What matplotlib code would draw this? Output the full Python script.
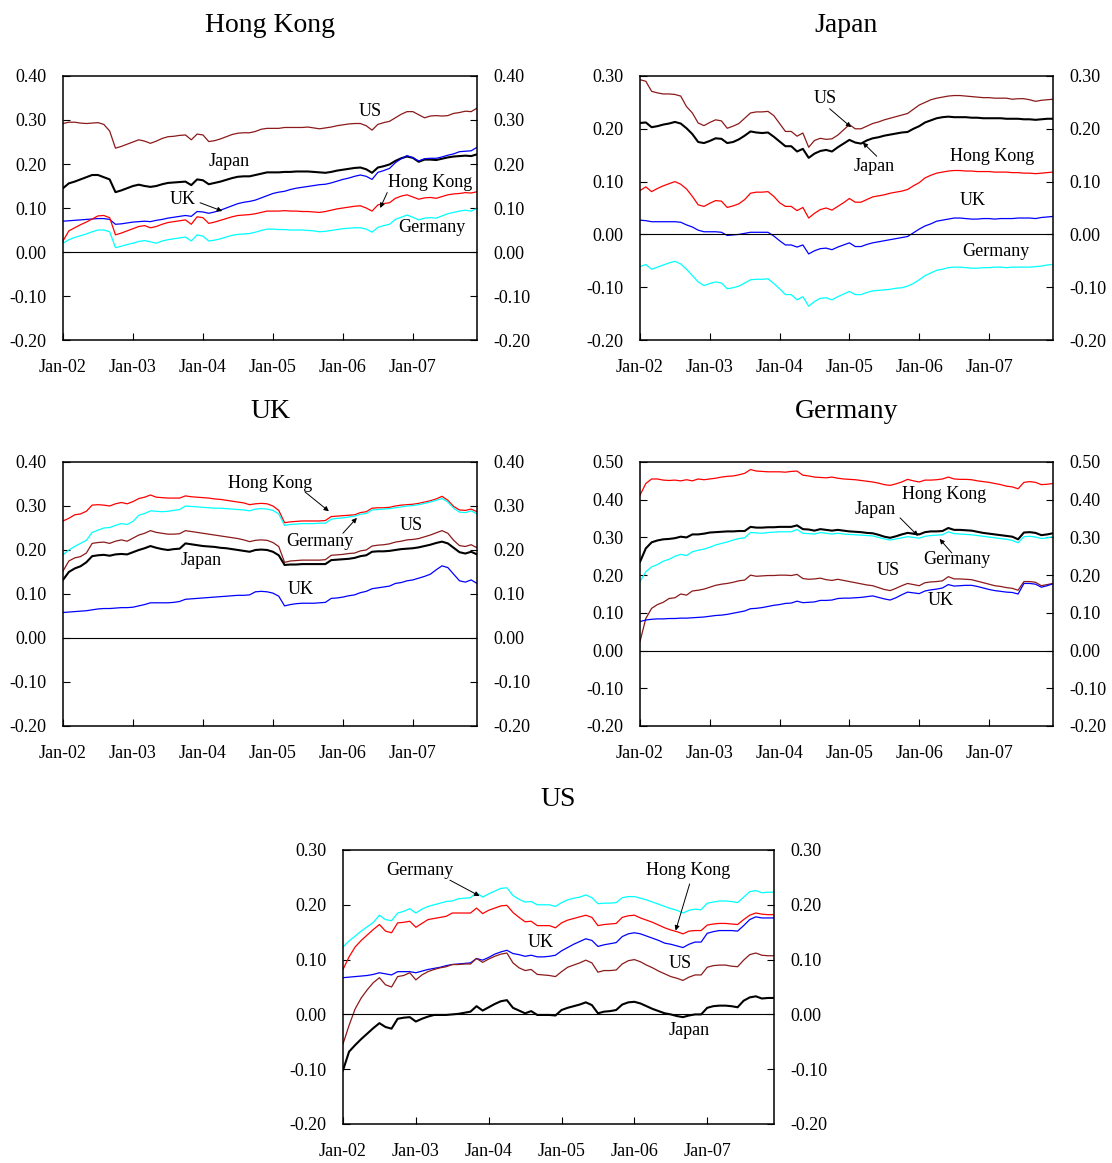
"""
Five panels: monthly correlation-type series, Jan-02 to Dec-07
"""
import matplotlib
matplotlib.use('Agg')
import matplotlib.pyplot as plt
from matplotlib.ticker import FuncFormatter, MultipleLocator

plt.rcParams['font.family'] = ['Liberation Serif', 'DejaVu Serif']
plt.rcParams['axes.unicode_minus'] = False

# x axis: one point per month, Jan-02 .. Dec-07
months = list(range(72))
year_ticks = [0, 12, 24, 36, 48, 60]
year_labels = ['Jan-02', 'Jan-03', 'Jan-04', 'Jan-05', 'Jan-06', 'Jan-07']

# ---- Hong Kong panel ----
hk_us = [.292, .295, .295, .293, .292, .293, .294, .290, .275, .236, .240, .245,
         .250, .255, .252, .247, .252, .258, .262, .263, .265, .266, .255, .268,
         .266, .251, .253, .257, .262, .267, .270, .271, .271, .274, .279, .281,
         .281, .281, .283, .283, .283, .283, .284, .282, .280, .282, .284, .287,
         .289, .291, .292, .292, .287, .277, .290, .294, .297, .305, .313, .319,
         .319, .312, .305, .309, .310, .309, .310, .315, .317, .320, .319, .327]
hk_japan = [.145, .156, .160, .165, .170, .175, .175, .170, .165, .136, .140, .145,
            .150, .153, .150, .148, .150, .154, .157, .158, .159, .160, .152, .165,
            .163, .154, .157, .160, .164, .168, .171, .172, .172, .175, .178, .181,
            .181, .181, .182, .182, .183, .183, .183, .182, .181, .180, .182, .185,
            .187, .189, .191, .192, .188, .180, .192, .195, .199, .207, .213, .217,
            .214, .205, .210, .210, .209, .212, .215, .217, .218, .219, .218, .222]
hk_uk = [.070, .071, .072, .073, .074, .075, .076, .076, .074, .063, .064, .066,
         .068, .069, .070, .069, .072, .074, .077, .079, .081, .083, .081, .092,
         .091, .088, .091, .095, .100, .105, .110, .113, .115, .118, .123, .128,
         .133, .136, .138, .142, .145, .147, .149, .151, .153, .154, .157, .161,
         .165, .168, .172, .175, .172, .165, .181, .185, .190, .203, .212, .219,
         .214, .207, .212, .213, .213, .216, .220, .223, .228, .229, .230, .238]
hk_hk = [.025, .048, .055, .062, .068, .075, .082, .083, .078, .039, .043, .048,
         .053, .058, .060, .055, .058, .063, .067, .069, .071, .073, .063, .080,
         .078, .065, .068, .072, .076, .080, .083, .084, .085, .087, .090, .093,
         .093, .093, .094, .093, .093, .092, .092, .091, .090, .092, .095, .098,
         .100, .102, .104, .105, .100, .093, .107, .110, .112, .122, .127, .130,
         .125, .120, .123, .124, .122, .126, .130, .132, .133, .135, .134, .137]
hk_germany = [.020, .028, .033, .037, .041, .046, .050, .050, .046, .010, .013, .017,
              .020, .024, .026, .023, .020, .025, .028, .030, .032, .034, .025, .039,
              .036, .025, .027, .030, .034, .038, .040, .041, .042, .045, .049, .052,
              .052, .051, .051, .050, .050, .050, .049, .048, .046, .047, .049, .051,
              .053, .054, .055, .055, .052, .045, .056, .060, .063, .074, .079, .084,
              .079, .073, .077, .078, .077, .082, .087, .090, .093, .095, .093, .099]

# ---- Japan panel ----
jp_us = [.293, .290, .271, .268, .266, .266, .265, .262, .242, .230, .211, .206,
         .212, .217, .215, .201, .205, .210, .220, .230, .232, .232, .233, .225,
         .210, .195, .195, .186, .192, .165, .178, .182, .180, .181, .188, .198,
         .208, .200, .200, .205, .210, .213, .217, .220, .223, .226, .229, .237,
         .245, .250, .255, .258, .260, .262, .263, .263, .262, .261, .260, .259,
         .259, .258, .258, .258, .256, .257, .257, .255, .252, .254, .255, .256]
jp_japan = [.211, .212, .203, .205, .208, .210, .213, .210, .201, .190, .175, .173,
            .177, .182, .181, .173, .175, .180, .187, .195, .193, .192, .193, .185,
            .176, .167, .167, .157, .162, .145, .153, .158, .160, .157, .165, .172,
            .179, .174, .172, .178, .182, .184, .187, .189, .191, .193, .194, .200,
            .205, .212, .216, .220, .222, .223, .222, .222, .222, .221, .221, .220,
            .220, .220, .220, .219, .219, .219, .218, .218, .217, .218, .219, .219]
jp_hk = [.083, .090, .081, .087, .092, .096, .100, .095, .086, .072, .056, .053,
         .059, .064, .063, .051, .054, .058, .066, .078, .080, .080, .081, .072,
         .060, .053, .053, .045, .051, .031, .040, .047, .050, .046, .053, .060,
         .068, .061, .061, .066, .071, .073, .075, .078, .080, .082, .085, .092,
         .098, .107, .112, .116, .118, .120, .121, .121, .120, .120, .119, .119,
         .119, .118, .118, .118, .117, .117, .116, .116, .115, .116, .117, .118]
jp_uk = [.027, .026, .024, .024, .024, .024, .024, .023, .018, .014, .008, .005,
         .005, .005, .004, -.002, -.001, .000, .002, .004, .004, .004, .004, -.003,
         -.012, -.020, -.020, -.024, -.020, -.037, -.031, -.027, -.026, -.029, -.024, -.020,
         -.016, -.023, -.023, -.019, -.016, -.014, -.012, -.010, -.008, -.006, -.004, .003,
         .010, .016, .020, .025, .027, .029, .031, .031, .030, .029, .029, .030,
         .030, .029, .030, .030, .030, .031, .031, .031, .030, .032, .033, .034]
jp_germany = [-.061, -.057, -.066, -.062, -.058, -.054, -.051, -.056, -.066, -.078, -.090, -.097,
              -.093, -.090, -.092, -.103, -.101, -.098, -.092, -.086, -.085, -.085, -.084, -.093,
              -.103, -.114, -.114, -.124, -.118, -.136, -.127, -.121, -.120, -.124, -.118, -.113,
              -.108, -.114, -.114, -.110, -.107, -.106, -.105, -.104, -.102, -.101, -.098, -.093,
              -.086, -.078, -.073, -.068, -.066, -.063, -.062, -.062, -.063, -.064, -.064, -.063,
              -.063, -.062, -.062, -.063, -.062, -.062, -.062, -.062, -.061, -.060, -.058, -.057]

# ---- UK panel ----
uk_hk = [.266, .272, .280, .282, .288, .302, .303, .302, .300, .305, .308, .305,
         .310, .317, .320, .325, .320, .319, .318, .318, .318, .323, .321, .320,
         .319, .318, .316, .315, .313, .311, .309, .307, .303, .305, .306, .305,
         .300, .290, .262, .264, .265, .266, .266, .266, .266, .267, .276, .277,
         .278, .279, .280, .285, .287, .295, .296, .296, .297, .300, .302, .303,
         .304, .306, .309, .312, .316, .322, .313, .299, .291, .290, .293, .287]
uk_germany = [.189, .200, .208, .215, .222, .240, .245, .250, .251, .256, .260, .258,
              .265, .279, .283, .289, .288, .287, .288, .290, .292, .300, .299, .298,
              .297, .296, .295, .295, .294, .293, .292, .291, .289, .293, .294, .293,
              .290, .282, .256, .258, .259, .260, .260, .260, .261, .261, .270, .272,
              .273, .275, .277, .281, .283, .291, .292, .293, .294, .296, .298, .300,
              .301, .303, .306, .309, .313, .317, .309, .295, .286, .285, .289, .282]
uk_us = [.152, .175, .182, .185, .193, .215, .217, .218, .215, .220, .223, .220,
         .227, .234, .238, .244, .240, .238, .236, .236, .237, .244, .242, .240,
         .238, .236, .234, .232, .230, .228, .226, .223, .219, .222, .223, .222,
         .217, .208, .172, .175, .176, .177, .177, .177, .177, .178, .188, .189,
         .190, .192, .193, .198, .200, .209, .211, .212, .214, .218, .220, .223,
         .224, .226, .230, .234, .239, .244, .238, .222, .210, .208, .212, .205]
uk_japan = [.132, .150, .158, .163, .172, .186, .188, .189, .187, .190, .191, .190,
            .195, .200, .204, .209, .205, .202, .200, .202, .203, .215, .213, .211,
            .209, .208, .207, .205, .204, .202, .200, .198, .196, .200, .201, .200,
            .196, .188, .166, .167, .167, .168, .168, .168, .168, .168, .177, .178,
            .179, .180, .182, .186, .188, .196, .197, .197, .198, .200, .202, .203,
            .204, .206, .209, .212, .216, .219, .215, .205, .195, .192, .196, .190]
uk_uk = [.058, .059, .060, .061, .062, .064, .066, .067, .067, .068, .069, .069,
         .070, .073, .076, .080, .080, .080, .080, .081, .083, .088, .089, .090,
         .091, .092, .093, .094, .095, .096, .097, .097, .098, .105, .106, .105,
         .102, .095, .073, .076, .078, .079, .079, .079, .080, .081, .090, .091,
         .093, .096, .098, .103, .106, .112, .114, .116, .118, .124, .126, .130,
         .132, .136, .140, .145, .155, .164, .160, .145, .130, .127, .132, .124]

# ---- Germany panel ----
de_hk = [.412, .443, .455, .455, .452, .451, .452, .450, .453, .450, .455, .453,
         .455, .457, .460, .462, .463, .466, .470, .480, .476, .475, .474, .474,
         .474, .473, .475, .476, .465, .463, .460, .459, .458, .460, .457, .455,
         .454, .453, .451, .449, .447, .444, .440, .438, .442, .447, .454, .450,
         .447, .452, .452, .453, .455, .460, .455, .454, .454, .453, .450, .448,
         .446, .443, .440, .436, .434, .429, .446, .448, .446, .440, .441, .443]
de_japan = [.235, .271, .287, .292, .295, .296, .298, .302, .300, .308, .308, .310,
            .313, .314, .315, .316, .316, .317, .317, .328, .326, .326, .327, .327,
            .328, .328, .328, .332, .322, .321, .318, .322, .320, .318, .320, .318,
            .316, .315, .314, .312, .311, .307, .302, .299, .303, .308, .312, .310,
            .308, .314, .316, .316, .317, .325, .320, .320, .319, .318, .315, .312,
            .310, .308, .306, .304, .302, .295, .313, .314, .312, .306, .308, .311]
de_germany = [.183, .209, .222, .228, .237, .242, .250, .255, .252, .262, .266, .269,
              .274, .280, .284, .288, .293, .297, .299, .313, .312, .311, .313, .314,
              .315, .315, .315, .321, .311, .310, .309, .313, .311, .309, .311, .309,
              .308, .307, .306, .305, .304, .300, .296, .293, .296, .299, .302, .300,
              .298, .303, .305, .306, .307, .315, .310, .309, .308, .307, .305, .303,
              .301, .299, .297, .295, .292, .286, .302, .303, .301, .297, .299, .302]
de_us = [.024, .085, .112, .122, .128, .138, .140, .150, .147, .158, .160, .163,
         .168, .173, .176, .178, .181, .185, .187, .200, .197, .198, .199, .199,
         .200, .200, .199, .202, .191, .189, .190, .192, .188, .186, .189, .186,
         .183, .180, .177, .174, .172, .167, .162, .159, .165, .172, .178, .175,
         .172, .180, .182, .183, .185, .196, .190, .190, .189, .188, .184, .180,
         .176, .172, .170, .167, .165, .160, .183, .183, .181, .172, .175, .178]
de_uk = [.077, .081, .083, .084, .084, .085, .085, .086, .086, .087, .088, .089,
         .091, .093, .094, .096, .099, .102, .105, .111, .112, .114, .117, .120,
         .122, .125, .126, .131, .127, .128, .129, .133, .133, .134, .138, .139,
         .139, .140, .141, .143, .145, .141, .137, .134, .140, .148, .155, .153,
         .151, .158, .161, .163, .166, .175, .171, .172, .173, .173, .170, .166,
         .162, .159, .157, .155, .154, .150, .178, .178, .176, .168, .172, .177]

# ---- US panel ----
us_germany = [.123, .134, .143, .152, .160, .168, .181, .173, .171, .185, .188, .193,
              .185, .192, .197, .200, .203, .206, .207, .211, .212, .213, .222, .214,
              .220, .225, .230, .231, .217, .210, .205, .206, .200, .200, .200, .197,
              .204, .209, .212, .214, .218, .213, .202, .203, .203, .204, .213, .215,
              .215, .212, .209, .205, .201, .197, .193, .190, .185, .190, .192, .191,
              .203, .205, .207, .207, .206, .204, .214, .224, .226, .222, .223, .223]
us_hk = [.082, .105, .123, .135, .145, .155, .164, .152, .149, .167, .168, .170,
         .159, .166, .173, .175, .177, .179, .185, .185, .185, .185, .194, .184,
         .190, .194, .198, .199, .186, .177, .169, .170, .162, .162, .162, .158,
         .167, .172, .175, .178, .181, .177, .162, .164, .165, .166, .177, .180,
         .181, .176, .172, .168, .163, .158, .154, .151, .147, .152, .153, .153,
         .163, .165, .166, .166, .165, .164, .173, .181, .185, .183, .182, .182]
us_uk = [.067, .068, .069, .070, .071, .073, .076, .074, .072, .078, .078, .078,
         .076, .079, .082, .084, .086, .089, .091, .092, .093, .094, .102, .099,
         .104, .110, .114, .117, .111, .109, .106, .108, .105, .105, .106, .108,
         .116, .122, .128, .133, .138, .135, .124, .127, .129, .131, .142, .147,
         .149, .147, .143, .139, .135, .130, .128, .125, .122, .128, .132, .132,
         .148, .151, .153, .153, .153, .152, .162, .173, .178, .176, .176, .176]
us_us = [-.054, -.020, .010, .030, .045, .058, .067, .054, .050, .069, .071, .076,
         .063, .072, .078, .082, .085, .087, .091, .091, .092, .092, .102, .095,
         .101, .106, .110, .112, .094, .085, .080, .082, .073, .072, .071, .069,
         .078, .086, .090, .094, .099, .094, .077, .080, .080, .081, .092, .098,
         .100, .096, .090, .085, .079, .074, .069, .066, .062, .068, .072, .072,
         .086, .089, .090, .090, .088, .087, .099, .109, .112, .108, .107, .107]
us_japan = [-.102, -.068, -.056, -.045, -.035, -.025, -.016, -.023, -.026, -.008, -.006, -.005,
            -.013, -.008, -.004, -.001, -.001, -.001, .000, .001, .003, .005, .015, .007,
            .013, .019, .024, .026, .012, .007, .002, .006, -.001, -.001, -.001, -.002,
            .008, .012, .015, .018, .022, .017, .002, .005, .006, .008, .018, .022,
            .023, .020, .015, .010, .006, .002, .000, -.003, -.005, -.002, .000, .000,
            .012, .015, .016, .016, .015, .013, .025, .031, .033, .029, .030, .030]

colors = {'US': '#8B1A1A', 'Japan': 'black', 'UK': '#0000FF',
          'Hong Kong': '#FF0000', 'Germany': '#00FFFF'}
widths = {'US': 0.9, 'Japan': 1.5, 'UK': 0.9, 'Hong Kong': 0.9, 'Germany': 0.9}

W, H = 1112, 1163
fig = plt.figure(figsize=(W / 100, H / 100), dpi=100)


def panel(rect, title, series, ylim, labels):
    ax = fig.add_axes(rect)
    for name, vals in series:
        ax.plot(months, vals, color=colors[name], lw=widths[name])
    ax.axhline(0, color='black', lw=0.8)
    ax.set_xlim(0, 71)
    ax.set_ylim(*ylim)
    ax.yaxis.set_major_locator(MultipleLocator(0.1))
    ax.yaxis.set_major_formatter(FuncFormatter(lambda v, p: '%.2f' % v))
    ax.set_xticks(year_ticks)
    ax.set_xticklabels(year_labels)
    ax.tick_params(axis='y', direction='in', left=True, right=True,
                   labelright=True, length=5, labelsize=13, pad=12)
    ax.tick_params(axis='x', direction='in', top=False, length=5,
                   labelsize=13, pad=14)
    for s in ax.spines.values():
        s.set_linewidth(1.1)
    ax.set_title(title, fontsize=20, pad=32)
    for txt, xy, arrow in labels:
        if arrow is not None:
            ax.annotate('', xy=arrow[1], xytext=arrow[0],
                        arrowprops=dict(arrowstyle='-|>', lw=0.7, color='black',
                                        mutation_scale=7, shrinkA=0, shrinkB=0))
        ax.text(xy[0], xy[1], txt, fontsize=13, ha='center', va='center')
    return ax


panel([63 / W, 1 - 340 / H, 414 / W, 264 / H], 'Hong Kong',
      [('US', hk_us), ('Japan', hk_japan), ('UK', hk_uk),
       ('Hong Kong', hk_hk), ('Germany', hk_germany)],
      (-0.2, 0.4),
      [('US', (52.7, 0.320), None),
       ('Japan', (28.5, 0.205), None),
       ('UK', (20.6, 0.120), ((23.5, 0.112), (27.3, 0.093))),
       ('Hong Kong', (63.0, 0.157), ((55.6, 0.135), (54.4, 0.100))),
       ('Germany', (63.3, 0.055), None)])

panel([640 / W, 1 - 340 / H, 413 / W, 264 / H], 'Japan',
      [('US', jp_us), ('Japan', jp_japan), ('Hong Kong', jp_hk),
       ('UK', jp_uk), ('Germany', jp_germany)],
      (-0.2, 0.3),
      [('US', (31.8, 0.258), ((32.6, 0.238), (36.3, 0.203))),
       ('Japan', (40.2, 0.128), ((40.7, 0.148), (38.3, 0.174))),
       ('Hong Kong', (60.5, 0.148), None),
       ('UK', (57.2, 0.064), None),
       ('Germany', (61.2, -0.032), None)])

panel([63 / W, 1 - 726 / H, 414 / W, 264 / H], 'UK',
      [('Hong Kong', uk_hk), ('Germany', uk_germany), ('US', uk_us),
       ('Japan', uk_japan), ('UK', uk_uk)],
      (-0.2, 0.4),
      [('Hong Kong', (35.5, 0.350), ((41.5, 0.332), (45.6, 0.288))),
       ('Germany', (44.1, 0.220), ((48.0, 0.238), (50.4, 0.273))),
       ('US', (59.7, 0.255), None),
       ('Japan', (23.7, 0.177), None),
       ('UK', (40.7, 0.111), None)])

panel([640 / W, 1 - 726 / H, 413 / W, 264 / H], 'Germany',
      [('Hong Kong', de_hk), ('Japan', de_japan), ('Germany', de_germany),
       ('US', de_us), ('UK', de_uk)],
      (-0.2, 0.5),
      [('Hong Kong', (52.2, 0.413), None),
       ('Japan', (40.4, 0.373), ((44.7, 0.352), (47.8, 0.304))),
       ('Germany', (54.5, 0.241), ((53.6, 0.259), (51.5, 0.296))),
       ('US', (42.6, 0.212), None),
       ('UK', (51.7, 0.132), None)])

panel([343 / W, 1 - 1124 / H, 431 / W, 274 / H], 'US',
      [('Germany', us_germany), ('Hong Kong', us_hk), ('UK', us_uk),
       ('US', us_us), ('Japan', us_japan)],
      (-0.2, 0.3),
      [('Germany', (12.7, 0.263), ((17.6, 0.245), (22.5, 0.216))),
       ('Hong Kong', (56.9, 0.263), ((57.1, 0.238), (54.8, 0.153))),
       ('UK', (32.6, 0.131), None),
       ('US', (55.6, 0.093), None),
       ('Japan', (57.1, -0.029), None)])

fig.savefig('out.png', dpi=100)
